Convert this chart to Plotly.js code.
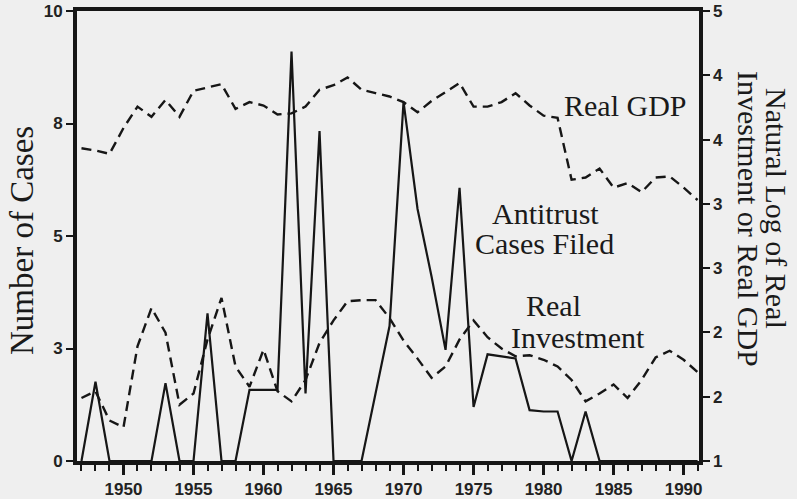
<!DOCTYPE html>
<html>
<head>
<meta charset="utf-8">
<script src="https://cdn.plot.ly/plotly-3.0.1.min.js"></script>
<style>
  html, body { margin: 0; padding: 0; background: #efefef; }
  #chart { width: 797px; height: 499px; }
</style>
</head>
<body>
<div id="chart"></div>
<script>
// ---- Data ----
const years = [1947,1948,1949,1950,1951,1952,1953,1954,1955,1956,1957,1958,1959,1960,
  1961,1962,1963,1964,1965,1966,1967,1968,1969,1970,1971,1972,1973,1974,1975,1976,
  1977,1978,1979,1980,1981,1982,1983,1984,1985,1986,1987,1988,1989,1990,1991];

// Antitrust cases filed (left axis)
const antitrustCases = [0,1.76,0,0,0,0,1.73,0,0,3.28,0,0,1.58,1.58,
  1.58,9.1,1.5,7.33,0,0,0,1.5,3.0,7.98,5.6,4.1,2.47,6.07,1.2,2.37,
  2.32,2.28,1.13,1.1,1.1,0,1.1,0,0,0,0,0,0,0,0];

// Natural log of real GDP (right axis)
const realGDP = [3.78,3.76,3.73,3.96,4.15,4.06,4.21,4.06,4.29,4.32,4.35,4.13,4.19,4.16,
  4.08,4.09,4.15,4.30,4.34,4.41,4.30,4.27,4.24,4.19,4.10,4.20,4.28,4.36,4.15,4.15,
  4.19,4.27,4.16,4.07,4.05,3.50,3.52,3.60,3.43,3.47,3.39,3.52,3.53,3.43,3.32];

// Natural log of real investment (right axis)
const realInvestment = [1.56,1.62,1.36,1.30,2.02,2.36,2.14,1.50,1.60,2.08,2.45,1.84,1.66,1.99,
  1.62,1.53,1.72,2.05,2.25,2.42,2.43,2.43,2.27,2.07,1.91,1.74,1.84,2.08,2.25,2.10,
  2.00,1.93,1.94,1.90,1.84,1.72,1.53,1.60,1.68,1.56,1.72,1.92,1.98,1.90,1.79];

// Tick values / labels
const leftTickVals = [0, 2.5, 5, 7.5, 10];
const leftTickText = ['0', '3', '5', '8', '10'];
const rightTickVals = [1, 1+4/7, 1+8/7, 1+12/7, 1+16/7, 1+20/7, 1+24/7, 5];
const rightTickText = ['1', '2', '2', '3', '3', '4', '4', '5'];

// ---- Chart ----
const ink = '#161616';
const tickFont = {family: 'Liberation Sans, Arial, sans-serif', size: 17, color: '#222', weight: 'bold'};
const serif = 'Liberation Serif, Times New Roman, serif';

const traces = [
  {x: years, y: antitrustCases, type: 'scatter', mode: 'lines', yaxis: 'y',
   line: {color: ink, width: 2.2}, name: 'Antitrust Cases Filed'},
  {x: years, y: realGDP, type: 'scatter', mode: 'lines', yaxis: 'y2',
   line: {color: ink, width: 2.4, dash: '10px,6px'}, name: 'Real GDP'},
  {x: years, y: realInvestment, type: 'scatter', mode: 'lines', yaxis: 'y2',
   line: {color: ink, width: 2.4, dash: '10px,6px'}, name: 'Real Investment'}
];

// pixel helpers for annotation placement (plot area 77..699 x, 11..461 y)
const L = 77, R = 699, T = 11, B = 461;
const px = v => (v - L) / (R - L);
const py = v => (B - v) / (B - T);

function label(text, x, y, size, angle) {
  return {text: text, xref: 'paper', yref: 'paper', x: px(x), y: py(y),
    xanchor: 'center', yanchor: 'middle', showarrow: false, textangle: angle || 0,
    font: {family: serif, size: size, color: '#1a1a1a'}};
}

const layout = {
  width: 797, height: 499,
  margin: {l: L, r: 797 - R, t: T, b: 499 - B},
  paper_bgcolor: '#efefef',
  plot_bgcolor: '#efefef',
  showlegend: false,
  xaxis: {
    range: [1946.68, 1991.1],
    tick0: 1950, dtick: 5,
    ticks: 'outside', ticklen: 10, tickwidth: 2.5, tickcolor: ink,
    minor: {dtick: 1, tick0: 1947, ticks: 'outside', ticklen: 6, tickwidth: 2, tickcolor: ink, showgrid: false},
    showline: true, linewidth: 4, linecolor: ink, mirror: true,
    showgrid: false, zeroline: false,
    tickfont: tickFont
  },
  yaxis: {
    range: [0, 10],
    tickvals: leftTickVals, ticktext: leftTickText,
    ticks: 'outside', ticklen: 7, tickwidth: 2, tickcolor: ink,
    showline: true, linewidth: 4, linecolor: ink,
    showgrid: false, zeroline: false,
    tickfont: tickFont
  },
  yaxis2: {
    range: [1, 5], overlaying: 'y', side: 'right',
    tickvals: rightTickVals, ticktext: rightTickText,
    ticks: 'outside', ticklen: 7, tickwidth: 2, tickcolor: ink,
    showline: true, linewidth: 3.5, linecolor: ink,
    showgrid: false, zeroline: false,
    tickfont: tickFont
  },
  annotations: [
    label('Number of Cases', 22, 241, 33, -90),
    label('Natural Log of Real', 777, 208, 30, 90),
    label('Investment or Real GDP', 749, 219, 30, 90),
    label('Real GDP', 625, 105, 30),
    label('Antitrust', 545, 213, 30),
    label('Cases Filed', 544, 243, 30),
    label('Real', 553, 305, 30),
    label('Investment', 578, 337, 30)
  ]
};

Plotly.newPlot('chart', traces, layout, {displayModeBar: false, staticPlot: true});
</script>
</body>
</html>
